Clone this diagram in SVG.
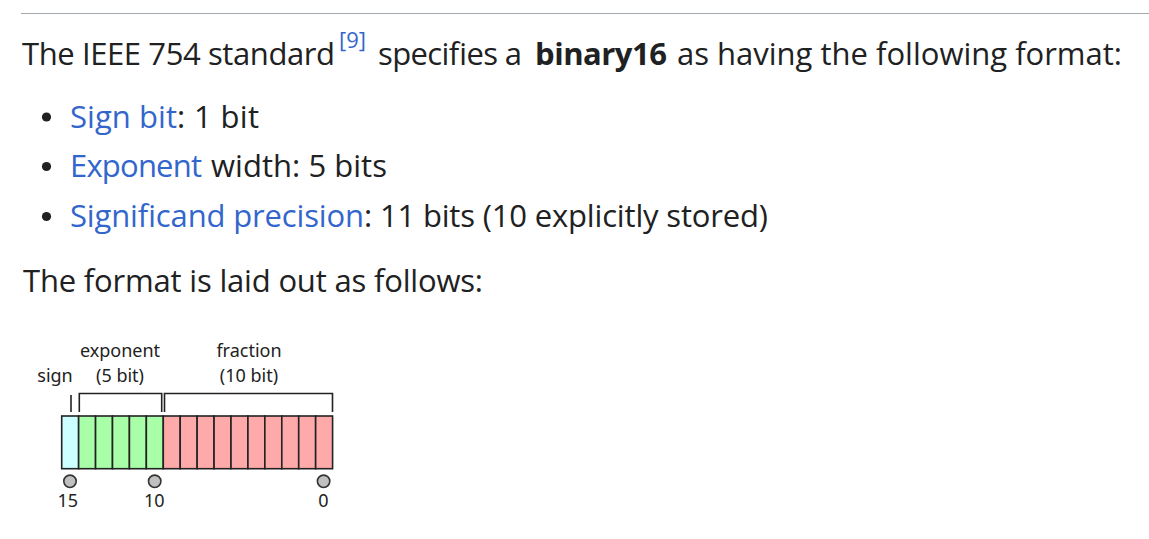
<svg xmlns="http://www.w3.org/2000/svg" width="1149" height="539" viewBox="0 0 1149 539">
<style>
.t{font-family:"Open Sans","Noto Sans","DejaVu Sans",sans-serif;font-size:31px;fill:#202122}
.l{fill:#3366cc}
.b{font-weight:bold}
.d{font-family:"Noto Sans","Open Sans","DejaVu Sans",sans-serif;font-size:18px;fill:#222;text-anchor:middle}
.br{fill:none;stroke:#222;stroke-width:1.6}
.c{stroke:#222;stroke-width:1.6}
.s{fill:#ccffff}.e{fill:#a8ffa8}.f{fill:#ffaaaa}
.p{fill:#c0c0c0;stroke:#333;stroke-width:1.6}
</style>
<rect width="1149" height="539" fill="#ffffff"/>
<line x1="21" y1="13.5" x2="1149" y2="13.5" stroke="#a2a9b1" stroke-width="1"/>
<g id="text">
<text class="t" y="65"><tspan x="22" textLength="313">The IEEE 754 standard</tspan><tspan class="l" x="339" y="48" style="font-size:22px" textLength="27">[9]</tspan><tspan x="378" y="65" textLength="144">specifies a</tspan><tspan class="b" x="535" textLength="132">binary16</tspan><tspan x="677" textLength="445">as having the following format:</tspan></text>
<circle cx="46.5" cy="117" r="4.6" fill="#202122"/>
<text class="t" y="128"><tspan class="l" x="70" textLength="107">Sign bit</tspan><tspan x="177" textLength="82">: 1 bit</tspan></text>
<circle cx="46.5" cy="166.5" r="4.6" fill="#202122"/>
<text class="t" y="177"><tspan class="l" x="70" textLength="132">Exponent</tspan><tspan x="211" textLength="176">width: 5 bits</tspan></text>
<circle cx="46.5" cy="216.5" r="4.6" fill="#202122"/>
<text class="t" y="227"><tspan class="l" x="70" textLength="294">Significand precision</tspan><tspan x="364" textLength="404">: 11 bits (10 explicitly stored)</tspan></text>
<text class="t" y="292"><tspan x="23" textLength="460">The format is laid out as follows:</tspan></text>
</g>
<g id="labels">
<text class="d" x="55" y="381.7">sign</text>
<text class="d" x="120" y="357.3">exponent</text>
<text class="d" x="120" y="381.7">(5 bit)</text>
<text class="d" x="249" y="357.3">fraction</text>
<text class="d" x="249" y="381.7">(10 bit)</text>
<text class="d" x="67.8" y="506.7">15</text>
<text class="d" x="154.3" y="506.7">10</text>
<text class="d" x="323.3" y="506.7">0</text>
</g>
<g id="cells">
<rect class="c s" x="61.7" y="416" width="16.93" height="52.7"/>
<rect class="c e" x="78.63" y="416" width="16.93" height="52.7"/>
<rect class="c e" x="95.56" y="416" width="16.93" height="52.7"/>
<rect class="c e" x="112.49" y="416" width="16.93" height="52.7"/>
<rect class="c e" x="129.42" y="416" width="16.93" height="52.7"/>
<rect class="c e" x="146.35" y="416" width="16.93" height="52.7"/>
<rect class="c f" x="163.28" y="416" width="16.93" height="52.7"/>
<rect class="c f" x="180.21" y="416" width="16.93" height="52.7"/>
<rect class="c f" x="197.14" y="416" width="16.93" height="52.7"/>
<rect class="c f" x="214.07" y="416" width="16.93" height="52.7"/>
<rect class="c f" x="231" y="416" width="16.93" height="52.7"/>
<rect class="c f" x="247.93" y="416" width="16.93" height="52.7"/>
<rect class="c f" x="264.86" y="416" width="16.93" height="52.7"/>
<rect class="c f" x="281.79" y="416" width="16.93" height="52.7"/>
<rect class="c f" x="298.72" y="416" width="16.93" height="52.7"/>
<rect class="c f" x="315.65" y="416" width="16.93" height="52.7"/>
</g>
<g id="connectors">
<line class="br" x1="71" y1="395" x2="71" y2="412"/>
<path class="br" d="M79.3,412 V393.5 H161.7 V412"/>
<path class="br" d="M164.5,412 V393.5 H332.5 V412"/>
</g>
<g id="markers">
<circle class="p" cx="70" cy="481.3" r="6.2"/>
<circle class="p" cx="154.7" cy="481.3" r="6.2"/>
<circle class="p" cx="323.6" cy="481.3" r="6.2"/>
</g>
</svg>
